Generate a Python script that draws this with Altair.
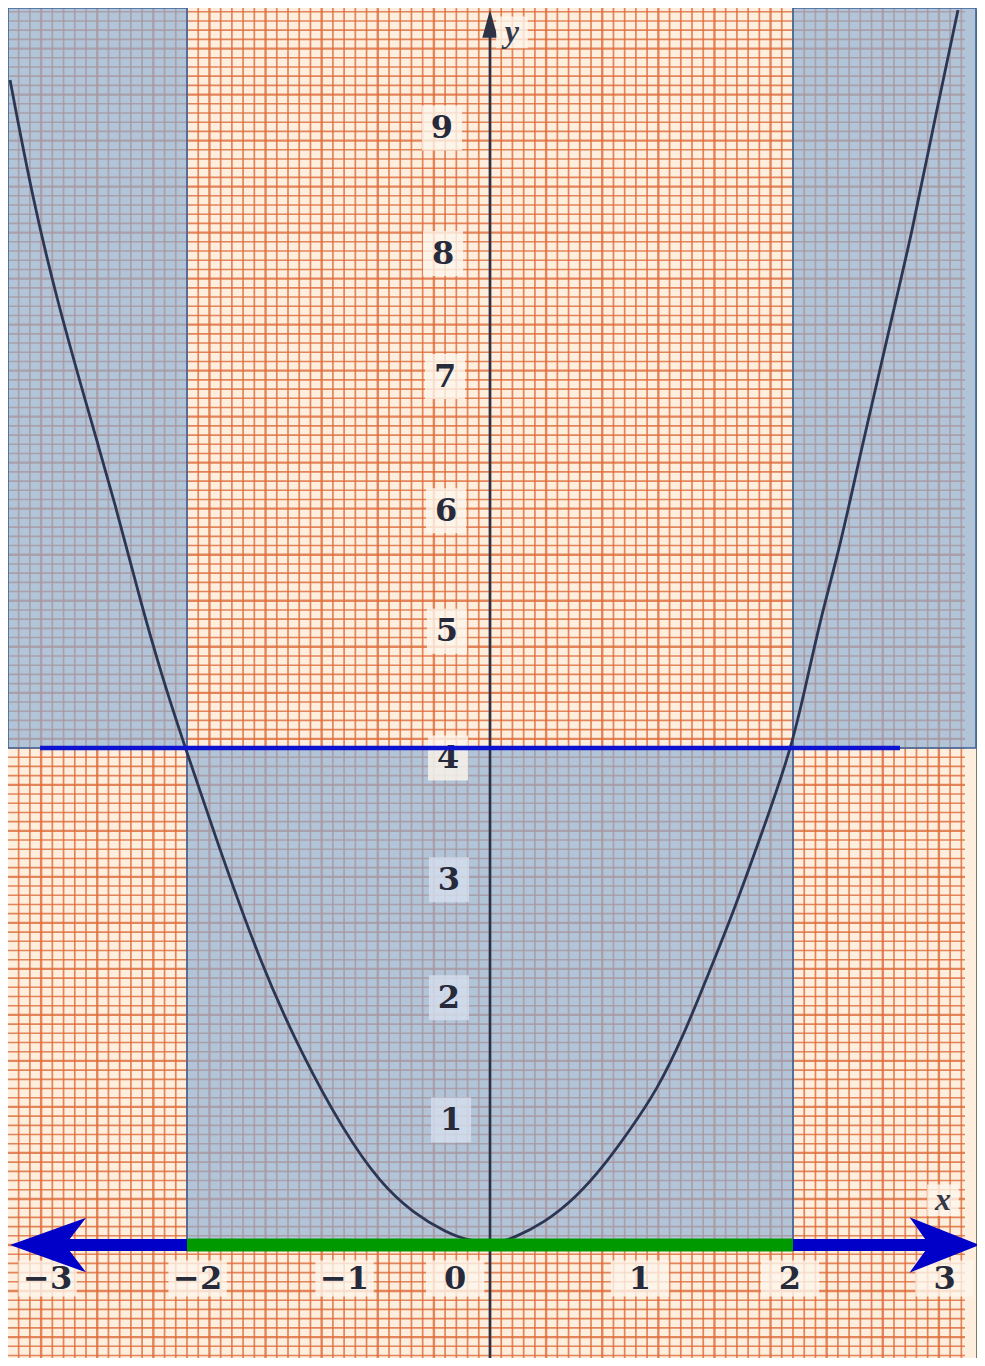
import altair as alt
import pandas as pd
import numpy as np

# ---------------- data ----------------
# parabola y = x^2 as drawn
curve_x = [-3.168, -3.017, -2.858, -2.673, -2.462, -2.310, -2.158, -2.013, -1.828,
           -1.518, -1.234, -0.970, -0.726, -0.508, -0.284, -0.152, -0.013,
           0.066, 0.152, 0.350, 0.574, 0.746, 0.924, 1.102, 1.274, 1.452, 1.604,
           1.802, 1.993, 2.092, 2.191, 2.310, 2.455, 2.528, 2.653, 2.785, 2.917, 3.089]
curve_y = [9.376, 8.410, 7.606, 6.801, 5.915, 5.191, 4.547, 4.008, 3.340,
           2.270, 1.513, 0.926, 0.499, 0.258, 0.097, 0.040, 0.016,
           0.024, 0.056, 0.170, 0.390, 0.628, 0.926, 1.247, 1.674, 2.213, 2.672,
           3.340, 4.008, 4.547, 5.087, 5.618, 6.423, 6.801, 7.469, 8.145, 8.950, 9.940]

# y-axis tick labels and where they are printed
y_label_text = ["1", "2", "3", "4", "5", "6", "7", "8", "9"]
y_label_x = [-0.257, -0.271, -0.271, -0.277, -0.284, -0.290, -0.297, -0.310, -0.317]
y_label_y = [1.006, 1.990, 2.940, 3.920, 4.940, 5.910, 6.990, 7.980, 8.990]

# x-axis tick labels and where they are printed
x_label_text = ["\u22123", "\u22122", "\u22121", "0", "1", "2", "3"]
x_label_x = [-2.92, -1.93, -0.96, -0.23, 0.99, 1.98, 3.00]
x_label_y = [-0.27] * 7

# axis names
axis_name_text = ["y", "x"]
axis_name_x = [0.145, 2.99]
axis_name_y = [9.76, 0.36]

# shaded regions: x <= -2 or x >= 2 for y >= 4 ; [-2,2] x [0,4]
shade_x1 = [-3.1815, 2.0, -2.0]
shade_x2 = [-2.0, 3.208, 2.0]
shade_y1 = [4.0, 4.0, 0.0]
shade_y2 = [9.956, 9.956, 4.0]

# solution interval on x-axis and the rays
green_x = [-2.0, 2.0]
left_ray_x = [-2.0, -2.85]
right_ray_x = [2.0, 2.93]
level_line_x = [-2.97, 2.706]   # the line y = 4
level_y = 4.0

# ---------------- frame ----------------
W, H = 969, 1350
X_MIN, X_MAX = -3.1815, 3.2145
Y_MIN, Y_MAX = -0.9095, 9.956
PAPER_RIGHT = 3.208
GRID_RIGHT = 3.135
CELLS = 13.5

PAPER = "#fdeedd"
GRID = "#de6d3c"

xs = alt.Scale(domain=[X_MIN, X_MAX], nice=False, zero=False)
ys = alt.Scale(domain=[Y_MIN, Y_MAX], nice=False, zero=False)


def X(f):
    return alt.X(f, type="quantitative", scale=xs, axis=None)


def Y(f):
    return alt.Y(f, type="quantitative", scale=ys, axis=None)


# paper and shadow edge
paper_df = pd.DataFrame({"x1": [X_MIN], "x2": [PAPER_RIGHT], "y1": [Y_MIN], "y2": [Y_MAX]})
shadow_df = pd.DataFrame({"x1": [PAPER_RIGHT], "x2": [X_MAX], "y1": [Y_MIN], "y2": [Y_MAX - 0.02]})

paper = alt.Chart(paper_df).mark_rect(color=PAPER, clip=True).encode(
    x=X("x1"), x2="x2", y=Y("y1"), y2="y2")
shadow = alt.Chart(shadow_df).mark_rect(color="#7b7a62", clip=True).encode(
    x=X("x1"), x2="x2", y=Y("y1"), y2="y2")

# graph-paper grid (decoration)
kx = np.arange(np.ceil(X_MIN * CELLS), np.floor(GRID_RIGHT * CELLS) + 1)
ky = np.arange(np.ceil(Y_MIN * CELLS), np.floor(Y_MAX * CELLS) + 1)
vgrid = pd.DataFrame({"x": kx / CELLS, "y1": Y_MIN, "y2": Y_MAX,
                      "w": np.where(kx % 5 == 0, 2.4, 1.7)})
hgrid = pd.DataFrame({"y": ky / CELLS, "x1": X_MIN, "x2": GRID_RIGHT,
                      "w": np.where(ky % 5 == 0, 2.3, 1.6)})

vlines = alt.Chart(vgrid).mark_rule(color=GRID, opacity=0.82, clip=True).encode(
    x=X("x"), y=Y("y1"), y2="y2", strokeWidth=alt.StrokeWidth("w:Q", scale=None))
hlines = alt.Chart(hgrid).mark_rule(color=GRID, opacity=0.82, clip=True).encode(
    y=Y("y"), x=X("x1"), x2="x2", strokeWidth=alt.StrokeWidth("w:Q", scale=None))

# shaded rectangles
shade_df = pd.DataFrame({"x1": shade_x1, "x2": shade_x2, "y1": shade_y1, "y2": shade_y2})
shade = alt.Chart(shade_df).mark_rect(
    fill="#8aaed6", fillOpacity=0.66, stroke="#3d6298", strokeWidth=1.6, clip=True
).encode(x=X("x1"), x2="x2", y=Y("y1"), y2="y2")

# parabola
curve_df = pd.DataFrame({"x": curve_x, "y": curve_y})
curve = alt.Chart(curve_df).mark_line(
    color="#2c3552", strokeWidth=2.8, interpolate="basis", clip=True
).encode(x=X("x"), y=Y("y"))

# y-axis line and arrow
yaxis_df = pd.DataFrame({"x": [0.0], "y1": [Y_MIN], "y2": [9.75]})
yaxis = alt.Chart(yaxis_df).mark_rule(color="#2d3345", strokeWidth=2.6, clip=True).encode(
    x=X("x"), y=Y("y1"), y2="y2")
yarrow = alt.Chart(pd.DataFrame({"x": [0.0], "y": [9.83]})).mark_point(
    shape="M0,-1 L0.55,1 L-0.55,1 Z", size=784, filled=True, color="#2d3345",
    opacity=1, clip=True).encode(x=X("x"), y=Y("y"))

# labels with their light boxes
ylab_df = pd.DataFrame({"t": y_label_text, "x": y_label_x, "y": y_label_y,
                        "v": [int(t) for t in y_label_text]})
xlab_df = pd.DataFrame({"t": x_label_text, "x": x_label_x, "y": x_label_y})
name_df = pd.DataFrame({"t": axis_name_text, "x": axis_name_x, "y": axis_name_y})

ybox = alt.Chart(ylab_df).mark_point(
    shape="M-0.89,-1 L0.89,-1 L0.89,1 L-0.89,1 Z", size=2025, filled=True,
    opacity=0.8, strokeWidth=0, clip=True
).encode(x=X("x"), y=Y("y"),
         color=alt.condition(alt.datum.v < 4, alt.value("#d6deee"), alt.value("#fdf6ec")))
xbox = alt.Chart(xlab_df).mark_point(
    shape="M-1,-0.62 L1,-0.62 L1,0.62 L-1,0.62 Z", size=3400, filled=True,
    opacity=0.8, strokeWidth=0, color="#fdf6ec", clip=True
).encode(x=X("x"), y=Y("y"))
nbox = alt.Chart(name_df).mark_point(
    shape="M-1,-1 L1,-1 L1,1 L-1,1 Z", size=1000, filled=True,
    opacity=0.8, strokeWidth=0, color="#fdf6ec", clip=True
).encode(x=X("x"), y=Y("y"))

text_style = dict(font="DejaVu Serif", fontWeight="bold", fontSize=32,
                  color="#262a3a", align="center", baseline="middle", clip=True)
ytext = alt.Chart(ylab_df).mark_text(**text_style).encode(x=X("x"), y=Y("y"), text="t:N")
xtext = alt.Chart(xlab_df).mark_text(**text_style).encode(x=X("x"), y=Y("y"), text="t:N")
ntext = alt.Chart(name_df).mark_text(
    font="Liberation Serif", fontStyle="italic", fontWeight="bold", fontSize=32,
    color="#33384a", align="center", baseline="middle", clip=True
).encode(x=X("x"), y=Y("y"), text="t:N")

# line y = 4
level_df = pd.DataFrame({"x1": [level_line_x[0]], "x2": [level_line_x[1]], "y": [level_y]})
level = alt.Chart(level_df).mark_rule(color="#0c12cf", strokeWidth=4.5, clip=True).encode(
    x=X("x1"), x2="x2", y=Y("y"))

# solution segment and rays on the x-axis
seg_df = pd.DataFrame({
    "x1": [green_x[0], left_ray_x[0], right_ray_x[0]],
    "x2": [green_x[1], left_ray_x[1], right_ray_x[1]],
    "y": [0.0, 0.0, 0.0],
    "c": ["#009a00", "#0000c8", "#0000c8"],
    "w": [13, 12, 12],
})
segs = alt.Chart(seg_df).mark_rule(strokeCap="butt", clip=True).encode(
    x=X("x1"), x2="x2", y=Y("y"),
    color=alt.Color("c:N", scale=None),
    strokeWidth=alt.StrokeWidth("w:Q", scale=None))

larrow = alt.Chart(pd.DataFrame({"x": [-2.917], "y": [0.0]})).mark_point(
    shape="M-1,0 L1,-0.72 L0.45,0 L1,0.72 Z", size=5776, filled=True,
    color="#0000c8", opacity=1, strokeWidth=0, clip=True).encode(x=X("x"), y=Y("y"))
rarrow = alt.Chart(pd.DataFrame({"x": [3.0], "y": [0.0]})).mark_point(
    shape="M1,0 L-1,-0.79 L-0.43,0 L-1,0.79 Z", size=4900, filled=True,
    color="#0000c8", opacity=1, strokeWidth=0, clip=True).encode(x=X("x"), y=Y("y"))

chart = alt.layer(
    paper, shadow, vlines, hlines, shade, curve, yaxis, yarrow,
    ybox, xbox, nbox, ytext, xtext, ntext,
    level, segs, larrow, rarrow
).properties(
    width=W, height=H, padding=0,
    autosize=alt.AutoSizeParams(type="none"),
    background=PAPER,
).configure_view(strokeWidth=0)

chart.save("out.html", embed_options={"renderer": "svg", "actions": False})
